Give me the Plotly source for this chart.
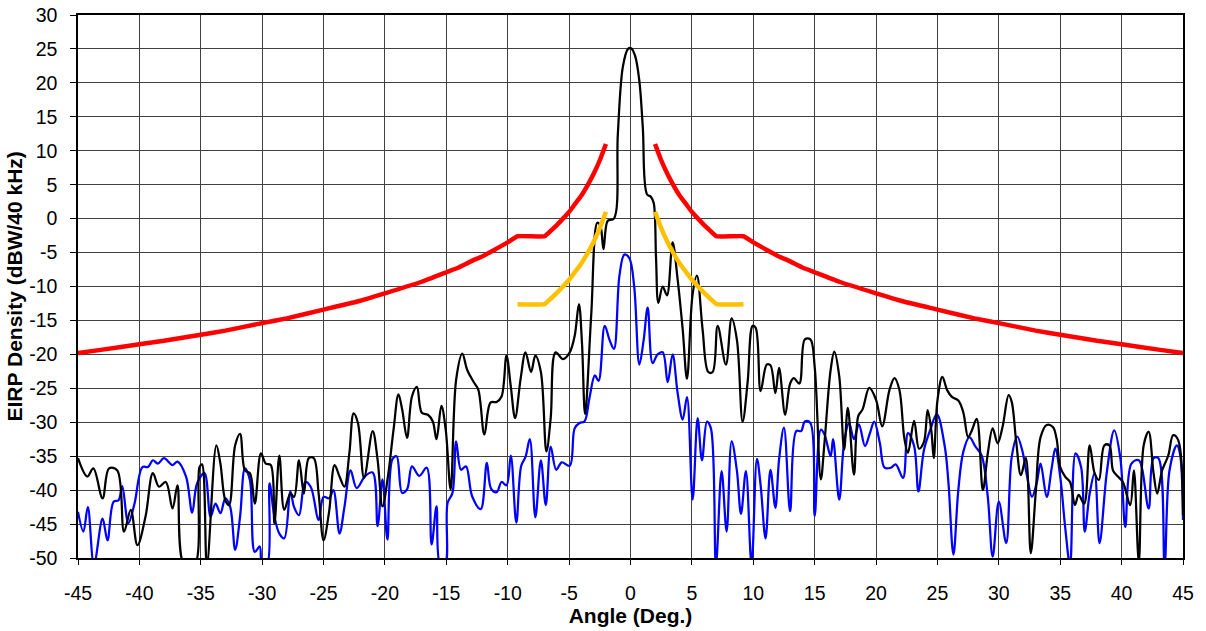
import plotly.graph_objects as go

# ---- measured trace (black) ----
black_x = [-45, -44.24, -43.75, -43.0, -42.47, -41.8, -41.25, -40.7, -40.16, -39.5, -38.9, -38.4, -37.85, -37.3, -36.9,
           -36.36, -35.5, -35.1, -34.9, -34.5, -33.73, -33.4, -33.0, -32.7, -32.2, -31.8, -31.4, -31.0, -30.6, -30.1,
           -29.7, -29.3, -29.0, -28.6, -28.2, -27.7, -27.4, -27.0, -26.6, -26.2, -25.8, -25.4, -25.0, -24.55, -24.1,
           -23.7, -23.3, -22.9, -22.55, -22.2, -21.7, -21.0, -20.6, -20.2, -19.75, -19.3, -18.9, -18.6, -18.2, -17.8,
           -17.4, -17.0, -16.5, -16.1, -15.8, -15.4, -15.05, -14.65, -14.2, -13.7, -13.3, -12.8, -12.4, -11.9, -11.4,
           -10.9, -10.5, -10.1, -9.75, -9.4, -8.95, -8.55, -8.1, -7.75, -7.3, -6.85, -6.5, -6.1, -5.5, -4.95, -4.55,
           -4.2, -3.95, -3.7, -3.2, -2.7, -2.45, -2.2, -1.85, -1.35, -1.03, -0.62, -0.2, 0.05, 0.37, 0.72, 1.0, 1.34,
           1.67, 1.89, 2.08, 2.27, 2.62, 2.97, 3.43, 3.84, 4.25, 4.6, 5.06, 5.41, 5.87, 6.34, 6.69, 7.1, 7.77, 8.24,
           8.67, 9.13, 9.54, 9.95, 10.2, 10.6, 11.1, 11.4, 11.8, 12.1, 12.6, 13.0, 13.3, 13.75, 14.2, 14.65, 15.0,
           15.5, 15.8, 16.3, 16.6, 17.0, 17.4, 17.7, 18.2, 18.55, 18.9, 19.45, 20.0, 20.5, 21.1, 21.5, 21.9, 22.3,
           22.6, 23.1, 23.5, 23.9, 24.2, 24.5, 24.7, 25.0, 25.4, 25.8, 26.2, 26.7, 27.1, 27.5, 27.8, 28.2, 28.7, 29.1,
           29.5, 29.9, 30.3, 30.8, 31.05, 31.4, 31.8, 32.2, 32.6, 33.0, 33.4, 33.9, 34.4, 34.7, 35.0, 35.4, 35.8,
           36.2, 36.5, 36.95, 37.4, 37.8, 38.15, 38.6, 39.0, 39.3, 39.7, 40.1, 40.7, 41.0, 41.4, 41.8, 42.2, 42.6,
           42.9, 43.3, 43.8, 44.2, 44.6, 45.0]
black_y = [-35.3, -38.0, -36.8, -41.2, -36.8, -37.1, -46.1, -42.9, -48.1, -43.9, -37.5, -39.5, -38.8, -42.7, -39.3,
           -51, -51, -36.6, -36.2, -51, -33.4, -36.1, -41.5, -42.2, -33.4, -31.7, -37.1, -37.5, -42.0, -34.6,
           -36.1, -36.3, -44.9, -34.9, -42.9, -40.5, -41.0, -35.6, -40.5, -35.3, -35.3, -40.5, -47.4, -43.2, -36.3,
           -38.0, -39.5, -34.6, -28.7, -30.1, -38.2, -31.3, -35.5, -42.4, -37.9, -31.1, -25.9, -28.1, -32.3, -26.2,
           -24.8, -28.6, -28.9, -29.9, -32.5, -27.6, -31.1, -39.9, -23.7, -19.9, -22.3, -24.0, -25.2, -31.8, -27.1,
           -27.0, -26.2, -20.2, -24.7, -29.4, -23.6, -19.7, -22.6, -20.2, -22.6, -34.3, -29.4, -19.7, -20.7, -19.7, -17.3,
           -12.6, -18.4, -28.8, -14.2, -0.6, -1.1, -4.5, -0.3, 0.0, 12.5, 22.4, 25.0, 25.1, 24.0, 20.3, 13.5, 3.6,
           3.2, 2.3, -5.8, -12.4, -10.0, -11.3, -3.5, -9.0, -16.3, -23.6, -11.1, -8.4, -16.3, -22.6, -22.6, -15.8, -21.5, -14.7,
           -17.9, -29.9, -24.1, -15.8, -16.1, -25.4, -21.5, -21.6, -25.7, -22.0, -28.9, -24.3, -23.5, -24.3, -17.8, -17.8, -21.8,
           -38.4, -33.0, -22.3, -19.6, -23.2, -34.0, -27.9, -37.7, -29.1, -28.1, -24.95, -26.7, -30.6, -25.2, -23.5, -25.2, -32.3,
           -34.5, -29.8, -33.9, -32.9, -28.2, -31.2, -35.3, -26.8, -23.3, -25.3, -26.3, -26.8, -28.5, -32.2, -31.2, -29.5, -40.0, -34.6,
           -30.9, -33.1, -30.7, -26.0, -27.0, -32.6, -37.8, -35.3, -49.3, -40.5, -32.2, -30.4, -30.7, -32.4, -36.6, -38.0, -38.8,
           -42.2, -40.7, -42.0, -33.4, -37.5, -38.5, -33.4, -33.4, -37.1, -38.0, -38.8, -42.2, -37.1, -50.5, -33.4, -31.4, -37.5,
           -40.5, -37.1, -34.9, -31.9, -32.6, -43.7]

# ---- measured trace (blue) ----
blue_x = [-45, -44.56, -44.2, -43.7, -43.0, -42.6, -42.1, -41.7, -41.4, -40.9, -40.4, -39.75, -39.3, -38.9, -38.5,
          -38.0, -37.3, -36.9, -36.2, -35.7, -35.3, -34.7, -34.2, -33.8, -33.4, -33.0, -32.6, -32.2, -31.8, -31.4,
          -31.0, -30.6, -30.2, -30.0, -29.6, -29.4, -29.0, -28.6, -28.2, -27.7, -27.4, -27.0, -26.5, -26.05, -25.4,
          -25.0, -24.55, -24.2, -23.7, -23.3, -22.8, -22.3, -21.6, -21.0, -20.6, -20.2, -19.8, -19.4, -19.05, -18.6,
          -18.2, -17.8, -17.2, -16.6, -16.2, -15.8, -15.5, -15.1, -14.9, -14.5, -14.2, -13.8, -13.4, -12.9, -12.2,
          -11.7, -11.35, -10.9, -10.5, -10.1, -9.75, -9.3, -8.9, -8.55, -8.2, -7.75, -7.3, -6.9, -6.5, -6.05, -5.6,
          -4.95, -4.55, -4.15, -3.75, -3.35, -2.9, -2.6, -2.1, -1.7, -1.35, -0.9, -0.5, -0.1, 0.3, 0.72, 1.07, 1.4,
          1.8, 2.2, 2.62, 3.03, 3.43, 3.84, 4.25, 4.6, 5.06, 5.47, 5.82, 6.23, 6.55, 6.96, 7.42, 7.83, 8.24, 8.67,
          9.0, 9.4, 9.86, 10.3, 10.6, 11.0, 11.4, 11.8, 12.1, 12.5, 13.0, 13.5, 13.9, 14.2, 14.65, 15.0, 15.5, 15.8,
          16.3, 16.5, 17.0, 17.4, 17.8, 18.2, 18.6, 19.1, 19.5, 19.85, 20.3, 20.7, 21.2, 21.6, 22.2, 22.6, 23.1,
          23.45, 23.9, 24.4, 24.95, 25.6, 25.9, 26.3, 26.7, 27.1, 27.6, 28.1, 28.6, 29.1, 29.5, 30.0, 30.6, 31.05,
          31.5, 31.9, 32.3, 32.7, 33.1, 33.4, 33.9, 34.3, 34.6, 35.0, 35.4, 35.8, 36.25, 36.7, 37.0, 37.4, 37.8,
          38.2, 38.8, 39.4, 39.9, 40.3, 40.8, 41.4, 42.2, 42.6, 43.0, 43.5, 43.9, 44.5, 44.75, 45.0]
blue_y = [-43.2, -46.1, -42.5, -51, -44.2, -47.4, -41.7, -41.5, -39.4, -44.9, -42.0, -36.6, -36.6, -35.6, -36.1,
          -35.3, -36.3, -35.8, -38.0, -43.3, -39.0, -37.5, -43.9, -42.0, -43.4, -41.2, -42.5, -48.8, -43.9, -36.8,
          -38.5, -49.1, -48.3, -51, -51, -39.0, -43.9, -46.4, -47.1, -40.2, -42.5, -43.7, -38.8, -39.5, -44.4,
          -41.0, -41.2, -40.0, -46.4, -42.5, -37.1, -39.7, -37.9, -37.4, -45.3, -38.4, -47.3, -35.5, -35.0, -40.4,
          -39.9, -36.5, -37.9, -36.7, -48.0, -42.4, -51, -51, -41.9, -40.4, -32.8, -37.0, -36.5, -40.9, -42.8,
          -36.0, -39.8, -40.3, -38.8, -39.3, -34.9, -44.8, -36.4, -35.1, -32.5, -44.0, -35.6, -42.2, -33.6, -37.0, -35.9,
          -36.4, -30.9, -30.1, -29.9, -26.5, -23.1, -23.9, -15.8, -17.9, -19.2, -8.4, -5.3, -5.8, -10.0, -21.5, -17.9, -13.1,
          -21.3, -20.0, -19.7, -24.1, -20.0, -25.7, -29.6, -26.3, -41.4, -29.4, -35.6, -29.9, -30.9, -51, -37.2, -46.1, -32.8, -37.2,
          -43.5, -37.2, -51, -35.4, -39.3, -47.1, -37.0, -42.6, -35.5, -30.8, -43.1, -31.3, -31.3, -29.9, -30.1, -43.8, -31.1, -31.8,
          -35.0, -32.5, -41.4, -33.0, -30.1, -32.5, -30.3, -33.5, -31.6, -29.9, -33.0, -36.7, -36.7, -36.2, -38.2, -31.6, -33.5,
          -40.2, -34.1, -31.2, -28.8, -33.6, -39.0, -49.5, -40.0, -34.4, -32.2, -33.6, -34.9, -41.0, -49.8, -41.7, -47.8, -35.1,
          -32.1, -34.1, -38.0, -41.0, -38.8, -36.1, -41.0, -36.8, -33.9, -38.0, -45.4, -51, -34.6, -36.6, -46.1, -40.5, -37.5,
          -47.8, -37.3, -31.2, -35.3, -45.4, -36.1, -35.6, -42.7, -35.3, -35.3, -51, -37.1, -33.4, -34.6, -44.4]

# ---- envelope masks (one side, mirrored for negative angles) ----
red_angle = [2, 2.5, 3, 3.5, 4, 4.5, 5, 5.5, 6, 6.5, 7, 9.2, 10, 11, 12, 13, 14, 15, 17, 20, 22, 25, 28, 30, 33, 35, 38, 40, 43, 45]
red_level = [11.0, 8.6, 6.6, 4.9, 3.4, 2.2, 1.0, 0.0, -0.95, -1.8, -2.6, -2.6, -3.5, -4.5, -5.5, -6.3, -7.2, -7.9, -9.3,
             -11.0, -12.1, -13.4, -14.7, -15.4, -16.5, -17.1, -18.0, -18.5, -19.3, -19.8]
orange_angle = [2, 2.5, 3, 3.5, 4, 4.5, 5, 5.5, 6, 6.5, 7, 9.2]
orange_level = [1.0, -1.4, -3.4, -5.1, -6.6, -7.8, -9.0, -10.0, -10.95, -11.8, -12.6, -12.6]

x_ticks = list(range(-45, 50, 5))
y_ticks = list(range(-50, 35, 5))


def mirrored(angles, levels):
    xs = [-a for a in reversed(angles)] + [None] + list(angles)
    ys = list(reversed(levels)) + [None] + list(levels)
    return xs, ys


fig = go.Figure()
rx, ry = mirrored(red_angle, red_level)
ox, oy = mirrored(orange_angle, orange_level)

fig.add_trace(go.Scatter(x=blue_x, y=blue_y, mode="lines",
                         line=dict(color="#0000FF", width=2.25, shape="spline", smoothing=1.0)))
fig.add_trace(go.Scatter(x=black_x, y=black_y, mode="lines",
                         line=dict(color="#000000", width=2.25, shape="spline", smoothing=1.0)))
fig.add_trace(go.Scatter(x=ox, y=oy, mode="lines", connectgaps=False,
                         line=dict(color="#FFC000", width=4.5, shape="spline", smoothing=0.35)))
fig.add_trace(go.Scatter(x=rx, y=ry, mode="lines", connectgaps=False,
                         line=dict(color="#FF0000", width=4.5, shape="spline", smoothing=0.35)))

font_family = "Liberation Sans, Arial, sans-serif"
fig.update_layout(
    template="none",
    width=1206, height=631,
    margin=dict(l=78, r=23, t=15, b=73, pad=0),
    paper_bgcolor="white", plot_bgcolor="white",
    showlegend=False,
    font=dict(family=font_family, size=19.5, color="black"),
    xaxis=dict(range=[-45, 45], tickvals=x_ticks, ticktext=[str(v) for v in x_ticks],
               showgrid=True, gridcolor="#404040", gridwidth=1, automargin=False,
               showline=True, linecolor="black", linewidth=1.5, mirror=True,
               ticks="outside", ticklen=5, tickcolor="black", zeroline=False,
               ticklabelstandoff=12, ticklabeloverflow="allow",
               tickfont=dict(size=19.5),
               title=dict(text="<b>Angle (Deg.)</b>", font=dict(size=21), standoff=4)),
    yaxis=dict(range=[-50, 30], tickvals=y_ticks, ticktext=[str(v) for v in y_ticks],
               showgrid=True, gridcolor="#404040", gridwidth=1, automargin=False,
               showline=True, linecolor="black", linewidth=1.5, mirror=True,
               ticks="outside", ticklen=6, tickcolor="black", zeroline=False,
               ticklabelstandoff=9, ticklabeloverflow="allow",
               tickfont=dict(size=19.5)),
    annotations=[dict(text="<b>EIRP Density (dBW/40 kHz)</b>", xref="paper", yref="paper",
                      x=0, y=0.5, xanchor="center", yanchor="middle", xshift=-64,
                      textangle=-90, showarrow=False, font=dict(size=21))],
)

fig.write_html("out.html", config={"displayModeBar": False},
               post_script="document.body.style.margin='0px';")
